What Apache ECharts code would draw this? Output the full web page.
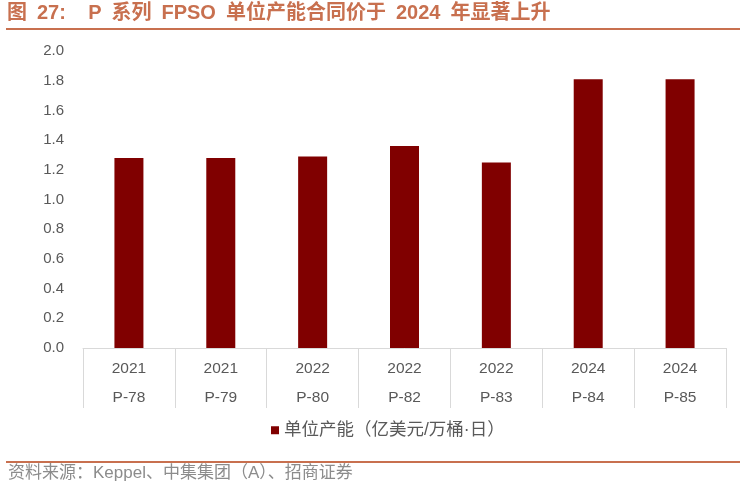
<!DOCTYPE html>
<html>
<head>
<meta charset="utf-8">
<script src="https://cdn.jsdelivr.net/npm/echarts@6/dist/echarts.min.js"></script>
<style>
  html, body { margin: 0; padding: 0; background: #fff; }
  #chart { width: 740px; height: 485px; }
</style>
</head>
<body>
<div id="chart"></div>
<script>
// 数据
var years = ["2021", "2021", "2022", "2022", "2022", "2024", "2024"];
var vessels = ["P-78", "P-79", "P-80", "P-82", "P-83", "P-84", "P-85"];
var unitCost = [1.28, 1.28, 1.29, 1.36, 1.25, 1.81, 1.81];
var yTicks = { min: 0, max: 2, interval: 0.2 };

var seriesName = "单位产能（亿美元/万桶·日）";
// 标题里的词间距比普通空格宽一些，用 en space
var titleText = "图\u200227:    P\u2002系列\u2002FPSO\u2002单位产能合同价于\u20022024\u2002年显著上升";
var sourceText = "资料来源：Keppel、中集集团（A）、招商证券";

var categories = years.map(function (y, i) { return y + "\n" + vessels[i]; });

var accent = "#c8704f";
var fontFamily = "'Liberation Sans', 'Noto Sans CJK SC', sans-serif";

var myChart = echarts.init(document.getElementById("chart"));

var option = {
    animation: false,
    textStyle: { fontFamily: fontFamily },
    grid: {
        left: 83,
        right: 14,
        top: 51,
        bottom: 137
    },
    xAxis: {
        type: "category",
        data: categories,
        axisLine: { lineStyle: { color: "#d9d9d9", width: 1 } },
        axisTick: {
            show: true,
            interval: 0,
            length: 60,
            lineStyle: { color: "#d9d9d9" }
        },
        axisLabel: {
            interval: 0,
            color: "#595959",
            fontSize: 15.5,
            lineHeight: 29,
            margin: 6
        }
    },
    yAxis: {
        type: "value",
        min: yTicks.min,
        max: yTicks.max,
        interval: yTicks.interval,
        axisLine: { show: false },
        axisTick: { show: false },
        splitLine: { show: false },
        axisLabel: {
            color: "#595959",
            fontSize: 15,
            margin: 19,
            formatter: function (v) { return v.toFixed(1); }
        }
    },
    legend: {
        bottom: 41,
        left: 266,
        itemWidth: 8,
        itemHeight: 8,
        itemGap: 4,
        icon: "rect",
        textStyle: { color: "#595959", fontSize: 17.5, fontFamily: fontFamily },
        data: [seriesName]
    },
    series: [
        {
            name: seriesName,
            type: "bar",
            data: unitCost,
            barWidth: 29,
            itemStyle: { color: "#800000" }
        }
    ],
    graphic: [
        {
            type: "text",
            left: 7,
            top: 3,
            style: {
                text: titleText,
                fill: accent,
                font: "bold 20px 'Liberation Sans', 'Noto Sans CJK SC', sans-serif"
            }
        },
        {
            type: "rect",
            left: 6,
            top: 28,
            shape: { width: 734, height: 2 },
            style: { fill: accent }
        },
        {
            type: "rect",
            left: 6,
            top: 461,
            shape: { width: 734, height: 2 },
            style: { fill: accent }
        },
        {
            type: "text",
            left: 8,
            top: 465,
            style: {
                text: sourceText,
                fill: "#8c8c8c",
                font: "17px 'Liberation Sans', 'Noto Sans CJK SC', sans-serif"
            }
        }
    ]
};

myChart.setOption(option);
window.addEventListener("resize", function () {
    myChart.resize();
});
</script>
</body>
</html>
